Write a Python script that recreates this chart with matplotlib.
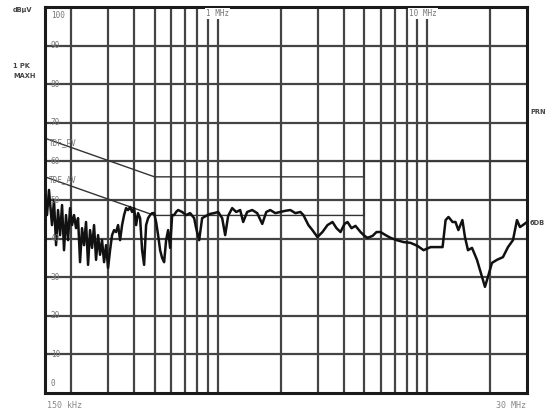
import matplotlib
matplotlib.use("Agg")
import matplotlib.pyplot as plt

# ---- data ----
freq_mhz = [0.150, 0.1533, 0.1567, 0.1620, 0.1656, 0.1694, 0.1731, 0.1770, 0.1809, 0.1849,
            0.1890, 0.1932, 0.1975, 0.2019, 0.2064, 0.2110, 0.2157, 0.2205, 0.2254, 0.2304,
            0.2355, 0.2408, 0.2461, 0.2516, 0.2572, 0.2629, 0.2688, 0.2747, 0.2808, 0.2871,
            0.2935, 0.3000, 0.3067, 0.3135, 0.3205, 0.3276, 0.3349, 0.3424, 0.3500, 0.3578,
            0.3658, 0.3739, 0.3822, 0.3907, 0.3994, 0.4083, 0.4174, 0.4267, 0.4362, 0.4459,
            0.4558, 0.4659, 0.4763, 0.4869, 0.4977, 0.5088, 0.5201, 0.5317, 0.5435, 0.5556,
            0.5680, 0.5806, 0.5935, 0.6067, 0.6202, 0.6340, 0.6481, 0.6772, 0.7077, 0.7396,
            0.7729, 0.7901, 0.8166, 0.8439, 0.8819, 0.9216, 0.9631, 1.0065, 1.0518, 1.0870,
            1.1233, 1.174, 1.227, 1.282, 1.325, 1.384, 1.463, 1.546, 1.634, 1.708,
            1.784, 1.886, 1.993, 2.106, 2.225, 2.351, 2.485, 2.568, 2.714, 2.836,
            2.997, 3.167, 3.347, 3.537, 3.696, 3.862, 4.036, 4.171, 4.358, 4.554,
            4.813, 5.029, 5.197, 5.492, 5.739, 5.997, 6.338, 6.697, 7.156, 7.728,
            8.343, 9.010, 9.624, 10.39, 11.10, 11.86, 12.26, 12.66, 13.23, 13.67,
            14.11, 14.75, 15.17, 15.68, 16.39, 17.31, 18.29, 18.90, 19.53, 20.41,
            21.56, 23.03, 24.34, 25.71, 26.87, 27.76, 28.69, 30.0]
level_dbuv = [51.3, 46.1, 52.6, 43.5, 50.0, 38.3, 47.4, 40.9, 48.7, 37.0,
              46.1, 39.6, 47.9, 43.5, 46.1, 42.7, 45.3, 33.9, 42.7, 38.3,
              44.3, 33.2, 42.2, 37.6, 43.5, 34.5, 40.9, 35.8, 39.6, 33.9,
              38.3, 32.4, 37.0, 40.9, 42.2, 41.7, 43.5, 39.6, 43.5, 46.1,
              47.9, 47.4, 48.2, 46.9, 47.9, 43.5, 46.6, 45.3, 37.0, 33.2,
              43.5, 45.3, 46.1, 46.6, 46.6, 44.3, 40.9, 37.0, 35.0, 33.9,
              39.6, 42.2, 37.6, 46.1, 46.1, 46.9, 47.4, 46.9, 46.1, 46.6,
              45.3, 42.7, 39.6, 45.3, 45.9, 46.4, 46.6, 46.9, 45.3, 40.9,
              45.9, 47.9, 46.9, 47.4, 44.3, 46.9, 47.4, 46.6, 43.8, 46.9,
              47.4, 46.6, 46.9, 47.2, 47.4, 46.6, 46.9, 46.1, 43.5, 42.2,
              40.4, 41.7, 43.5, 44.3, 42.7, 41.7, 43.8, 44.3, 42.7, 43.3,
              41.7, 40.7, 40.2, 40.7, 41.7, 41.7, 40.9, 40.2, 39.6, 39.1,
              38.9, 38.1, 37.0, 37.8, 37.8, 37.8, 44.8, 45.6, 44.3, 44.3,
              42.2, 44.8, 40.4, 37.0, 37.6, 34.5, 30.1, 27.5, 30.1, 33.7,
              34.5, 35.2, 37.8, 39.6, 44.8, 43.0, 43.5, 44.3]

qp_limit_freq = [0.15, 0.5, 5.0, 5.0, 30.0]
qp_limit_db = [66, 56, 56, 60, 60]
av_limit_freq = [0.15, 0.5, 5.0, 5.0, 30.0]
av_limit_db = [56, 46, 46, 50, 50]

grid_freqs = [0.2, 0.3, 0.4, 0.5, 0.6, 0.7, 0.8, 0.9, 1, 2, 3, 4, 5, 6, 7, 8, 9, 10, 20]
grid_levels = [10, 20, 30, 40, 50, 60, 70, 80, 90]
ytick_labels = ["100", "90", "80", "70", "60", "50", "40", "30", "20", "10", "0"]

# ---- figure ----
fig = plt.figure(figsize=(5.5, 4.15), dpi=100)
ax = fig.add_axes([45 / 550, 22 / 415, 482 / 550, 386 / 415])
ax.set_xscale("log")
ax.set_xlim(0.15, 30)
ax.set_ylim(0, 100)
ax.set_xticks([])
ax.set_yticks([])
ax.minorticks_off()
for s in ax.spines.values():
    s.set_linewidth(2.2)
    s.set_color("#1a1a1a")

gcol = "#444444"
for f in grid_freqs:
    ax.axvline(f, color=gcol, lw=1.6, zorder=1)
for lv in grid_levels:
    ax.axhline(lv, color=gcol, lw=1.6, zorder=1)

ax.plot(qp_limit_freq, qp_limit_db, color="#333333", lw=1.0, zorder=2)
ax.plot(av_limit_freq, av_limit_db, color="#333333", lw=1.0, zorder=2)

ax.plot(freq_mhz, level_dbuv, color="#111111", lw=1.8, zorder=3)

tfont = dict(family="DejaVu Sans Mono", color="#777777", fontsize=5.5)
yvals = [100, 90, 80, 70, 60, 50, 40, 30, 20, 10, 0]
for v, lab in zip(yvals, ytick_labels):
    yy = v - 2.2 if v == 100 else (v + 2.5 if v == 0 else v)
    ax.text(0.160, yy, lab, ha="left", va="center", zorder=4, **tfont)

ax.text(0.157, 64.8, "TDF_PV", ha="left", va="center", zorder=4, **tfont)
ax.text(0.157, 55.2, "TDF_AV", ha="left", va="center", zorder=4, **tfont)

bb = dict(facecolor="white", edgecolor="none", pad=1.0)
ax.text(0.88, 98.3, "1 MHz", ha="left", va="center", zorder=5, bbox=bb, **tfont)
ax.text(8.2, 98.3, "10 MHz", ha="left", va="center", zorder=5, bbox=bb, **tfont)

ofont = dict(family="DejaVu Sans", color="#444444", fontsize=4.8, fontweight="bold")
fig.text(13 / 550, 1 - 10 / 415, "dBµV", ha="left", va="center", **ofont)
fig.text(13 / 550, 1 - 66 / 415, "1 PK", ha="left", va="center", **ofont)
fig.text(13 / 550, 1 - 76 / 415, "MAXH", ha="left", va="center", **ofont)
fig.text(530 / 550, 1 - 112 / 415, "PRN", ha="left", va="center", **ofont)
fig.text(530 / 550, 1 - 223 / 415, "6DB", ha="left", va="center", **ofont)

bfont = dict(family="DejaVu Sans Mono", color="#888888", fontsize=6)
fig.text(47 / 550, 1 - 405 / 415, "150 kHz", ha="left", va="center", **bfont)
fig.text(526 / 550, 1 - 405 / 415, "30 MHz", ha="right", va="center", **bfont)

fig.savefig("out.png", dpi=100, facecolor="white")
